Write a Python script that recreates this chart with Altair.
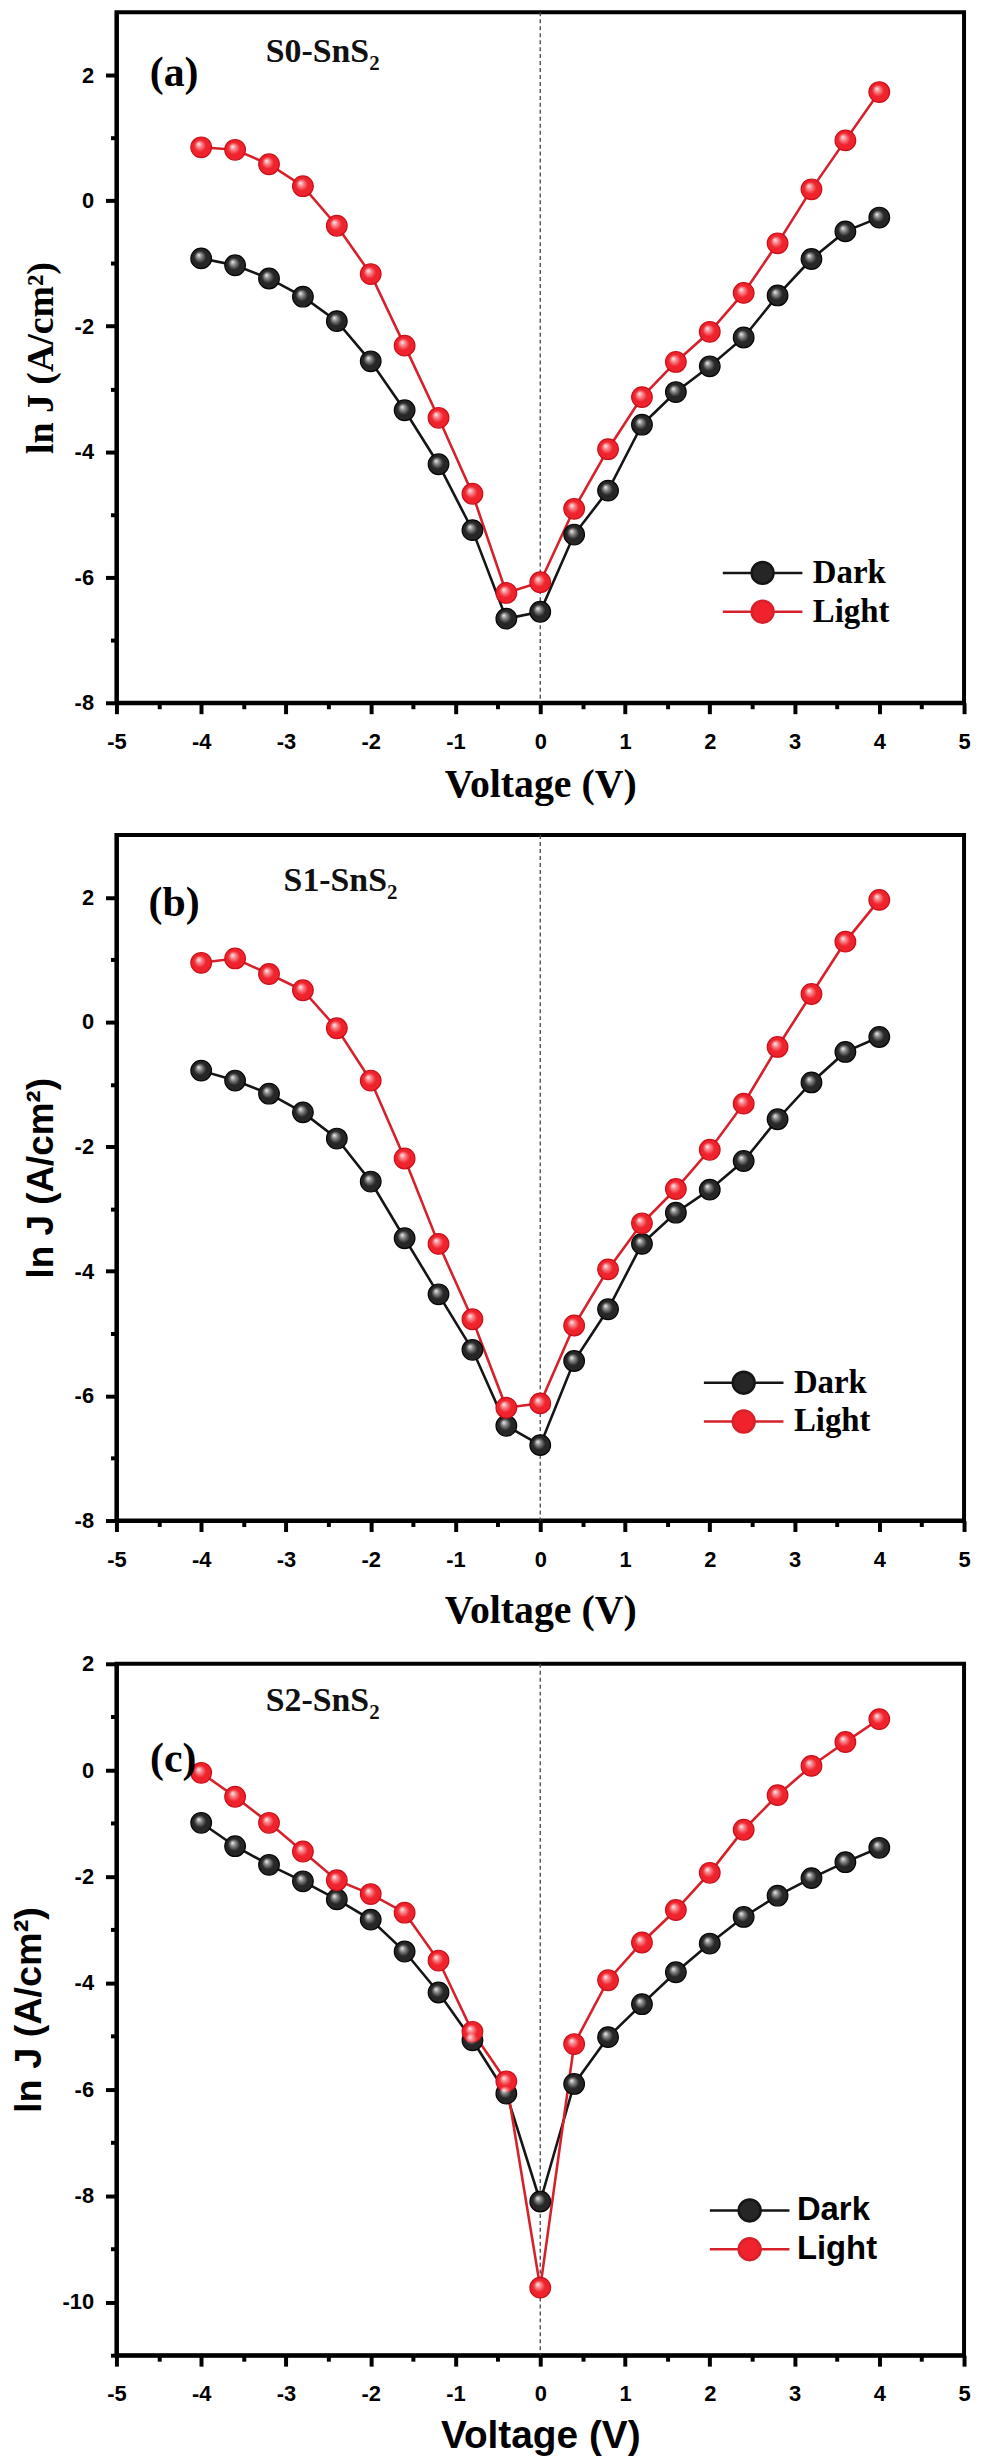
import altair as alt
import pandas as pd

# ---------------- data ----------------
voltage = [-4.0, -3.6, -3.2, -2.8, -2.4, -2.0, -1.6, -1.2, -0.8, -0.4, 0.0,
           0.4, 0.8, 1.2, 1.6, 2.0, 2.4, 2.8, 3.2, 3.6, 4.0]

a_dark = [-0.92, -1.03, -1.24, -1.53, -1.92, -2.56, -3.34, -4.20, -5.25, -6.66, -6.55,
          -5.32, -4.62, -3.57, -3.05, -2.64, -2.18, -1.51, -0.93, -0.49, -0.27]
a_light = [0.85, 0.81, 0.58, 0.23, -0.40, -1.17, -2.31, -3.46, -4.67, -6.25, -6.08,
           -4.91, -3.96, -3.13, -2.57, -2.09, -1.47, -0.68, 0.18, 0.96, 1.73]

b_dark = [-0.78, -0.94, -1.15, -1.45, -1.87, -2.56, -3.47, -4.37, -5.26, -6.48, -6.79,
          -5.44, -4.61, -3.56, -3.06, -2.69, -2.23, -1.56, -0.97, -0.48, -0.24]
b_light = [0.95, 1.02, 0.77, 0.51, -0.10, -0.94, -2.19, -3.56, -4.77, -6.19, -6.12,
           -4.87, -3.97, -3.23, -2.68, -2.05, -1.31, -0.40, 0.45, 1.29, 1.96]

c_dark = [-0.99, -1.43, -1.78, -2.09, -2.43, -2.81, -3.41, -4.18, -5.08, -6.08, -8.11,
          -5.90, -5.02, -4.40, -3.80, -3.26, -2.76, -2.36, -2.03, -1.73, -1.46]
c_light = [-0.05, -0.50, -0.99, -1.53, -2.07, -2.33, -2.68, -3.58, -4.92, -5.85, -9.73,
           -5.15, -3.95, -3.24, -2.63, -1.93, -1.12, -0.47, 0.08, 0.53, 0.96]

series_names = ["Dark", "Light"]
x_ticks = [-5, -4.5, -4, -3.5, -3, -2.5, -2, -1.5, -1, -0.5, 0, 0.5, 1, 1.5, 2, 2.5, 3, 3.5, 4, 4.5, 5]
y_ticks_ab = [-8, -7, -6, -5, -4, -3, -2, -1, 0, 1, 2]
y_ticks_c = [-11, -10, -9, -8, -7, -6, -5, -4, -3, -2, -1, 0, 1, 2]

SERIF = "Liberation Serif"
SANS = "Liberation Sans"
LINE_COLORS = ["#151515", "#d6202a"]
FILL_COLORS = ["#262626", "#f0222c"]
STROKE_COLORS = ["#050505", "#c8101a"]

LEGEND_SIZE = 1600  # symbol unit = sqrt(size)/2 = 20 px
LEGEND_PATH = ("M -2 0 L -0.55 0 M 0.55 0 L 2 0 "
               "M 0.55 0 A 0.55 0.55 0 1 1 -0.55 0 A 0.55 0.55 0 1 1 0.55 0 Z")

HIGHLIGHT = {
    "gradient": "radial",
    "x1": 0.36, "y1": 0.32, "r1": 0,
    "x2": 0.5, "y2": 0.5, "r2": 0.5,
    "stops": [
        {"offset": 0, "color": "rgba(255,255,255,0.95)"},
        {"offset": 0.28, "color": "rgba(255,255,255,0.45)"},
        {"offset": 0.62, "color": "rgba(255,255,255,0)"},
        {"offset": 1, "color": "rgba(255,255,255,0)"},
    ],
}


def panel(dark, light, ydomain, yticks, height, ytitle_font, ytitle_size,
          xtitle_font, xtitle_size, xtitle_pad, legend_font, legend_xy, legend_off,
          tag, tag_xy, sample, sample_xy):
    n = len(voltage)
    df = pd.DataFrame({
        "V": voltage + voltage,
        "J": dark + light,
        "Series": [series_names[0]] * n + [series_names[1]] * n,
    })

    x_axis = alt.Axis(
        values=x_ticks,
        labelExpr="datum.value % 1 != 0 ? '' : '' + datum.value",
        tickSize={"condition": {"test": "datum.value % 1 != 0", "value": 6}, "value": 11},
        tickWidth=4, tickColor="black", domainWidth=4, domainColor="black",
        labelFont=SANS, labelFontSize=22, labelFontWeight="bold", labelColor="black",
        labelPadding=18, labelFlush=False, labelOverlap=False,
        title="Voltage (V)", titleFont=xtitle_font, titleFontSize=xtitle_size,
        titleFontWeight="bold", titleColor="black", titlePadding=xtitle_pad, grid=False,
    )
    y_axis = alt.Axis(
        values=yticks,
        labelExpr="datum.value % 2 != 0 ? '' : '' + datum.value",
        tickSize={"condition": {"test": "datum.value % 2 != 0", "value": 6}, "value": 11},
        tickWidth=4, tickColor="black", domainWidth=4, domainColor="black",
        labelFont=SANS, labelFontSize=22, labelFontWeight="bold", labelColor="black",
        labelPadding=12, labelFlush=False, labelOverlap=False,
        title="ln J (A/cm²)", titleFont=ytitle_font, titleFontSize=ytitle_size,
        titleFontWeight="bold", titleColor="black", titlePadding=14, grid=False,
    )
    X = alt.X("V:Q", scale=alt.Scale(domain=[-5, 5], nice=False, zero=False), axis=x_axis)
    Y = alt.Y("J:Q", scale=alt.Scale(domain=ydomain, nice=False, zero=False), axis=y_axis)

    legend = alt.Legend(
        title=None, orient="none", legendX=legend_xy[0], legendY=legend_xy[1],
        symbolType=LEGEND_PATH, symbolSize=LEGEND_SIZE, symbolStrokeWidth=2.5, symbolOpacity=1,
        labelFont=legend_font, labelFontSize=33, labelFontWeight="bold", labelColor="black",
        labelOffset=legend_off, rowPadding=0, padding=0, labelLimit=0,
    )

    zero_df = pd.DataFrame({"V": [0.0]})
    zero = alt.Chart(zero_df).mark_rule(color="#444444", strokeWidth=1.3, strokeDash=[4, 3]).encode(x=X)

    layers = [zero]
    for name, col in zip(series_names, LINE_COLORS):
        layers.append(
            alt.Chart(df).transform_filter(alt.datum.Series == name)
            .mark_line(strokeWidth=2.6, color=col).encode(x=X, y=Y)
        )
    for name, fcol, scol in zip(series_names, FILL_COLORS, STROKE_COLORS):
        layers.append(
            alt.Chart(df).transform_filter(alt.datum.Series == name)
            .mark_point(shape="circle", size=430, opacity=1, filled=True, fill=fcol,
                        stroke=scol, strokeWidth=1.2).encode(x=X, y=Y)
        )
    layers.append(
        alt.Chart(df).mark_point(shape="circle", size=390, opacity=1, strokeWidth=0,
                                 fill=HIGHLIGHT, filled=True).encode(x=X, y=Y)
    )
    # legend holder: no marks drawn, only the legend built from the colour scales
    layers.append(
        alt.Chart(df).transform_filter("false")
        .mark_point(shape="circle", size=LEGEND_SIZE, opacity=1, strokeWidth=2.5, filled=True)
        .encode(
            x=X, y=Y,
            fill=alt.Fill("Series:N", scale=alt.Scale(domain=series_names, range=FILL_COLORS), legend=legend),
            stroke=alt.Stroke("Series:N", scale=alt.Scale(domain=series_names, range=LINE_COLORS), legend=legend),
        )
    )

    tag_df = pd.DataFrame({"t": [tag]})
    layers.append(alt.Chart(tag_df).mark_text(font=SERIF, fontSize=42, fontWeight="bold", color="black",
                                              align="center", baseline="middle").encode(
        text="t:N", x=alt.value(tag_xy[0]), y=alt.value(tag_xy[1])))

    s_df = pd.DataFrame({"t": [sample]})
    layers.append(alt.Chart(s_df).mark_text(font=SERIF, fontSize=34, fontWeight="bold", color="#111111",
                                            align="left", baseline="alphabetic").encode(
        text="t:N", x=alt.value(sample_xy[0]), y=alt.value(sample_xy[1])))
    sub_df = pd.DataFrame({"t": ["2"]})
    layers.append(alt.Chart(sub_df).mark_text(font=SERIF, fontSize=21, fontWeight="bold", color="#111111",
                                              align="left", baseline="alphabetic").encode(
        text="t:N", x=alt.value(sample_xy[0] + 104), y=alt.value(sample_xy[1] + 8)))

    return alt.layer(*layers).properties(width=852, height=height)


pa = panel(a_dark, a_light, [-8, 3], y_ticks_ab, 694, SERIF, 38, SERIF, 40, 12, SERIF,
           (628, 542), 29, "(a)", (58, 61), "S0-SnS", (150, 50))
pb = panel(b_dark, b_light, [-8, 3], y_ticks_ab, 689, SANS, 37, SERIF, 40, 21, SERIF,
           (609, 529), 29, "(b)", (58, 68), "S1-SnS", (168, 56))
pc = panel(c_dark, c_light, [-11, 2], y_ticks_c, 695, SANS, 38, SANS, 39, 12, SANS,
           (615, 528), 26, "(c)", (57, 96), "S2-SnS", (150, 47))

RES = dict(x="independent", y="independent", color="independent",
           fill="independent", stroke="independent")

top = alt.vconcat(pa, pb, spacing=26).resolve_scale(**RES).resolve_legend(
    fill="independent", stroke="independent", color="independent")
chart = alt.vconcat(top, pc, spacing=18).resolve_scale(**RES).resolve_legend(
    fill="independent", stroke="independent", color="independent")

chart = chart.properties(padding={"left": 0, "top": -5, "right": 0, "bottom": 0},
                         background="white").configure_view(stroke="black", strokeWidth=4)

chart.save("out.html", embed_options={"renderer": "svg", "actions": False})
